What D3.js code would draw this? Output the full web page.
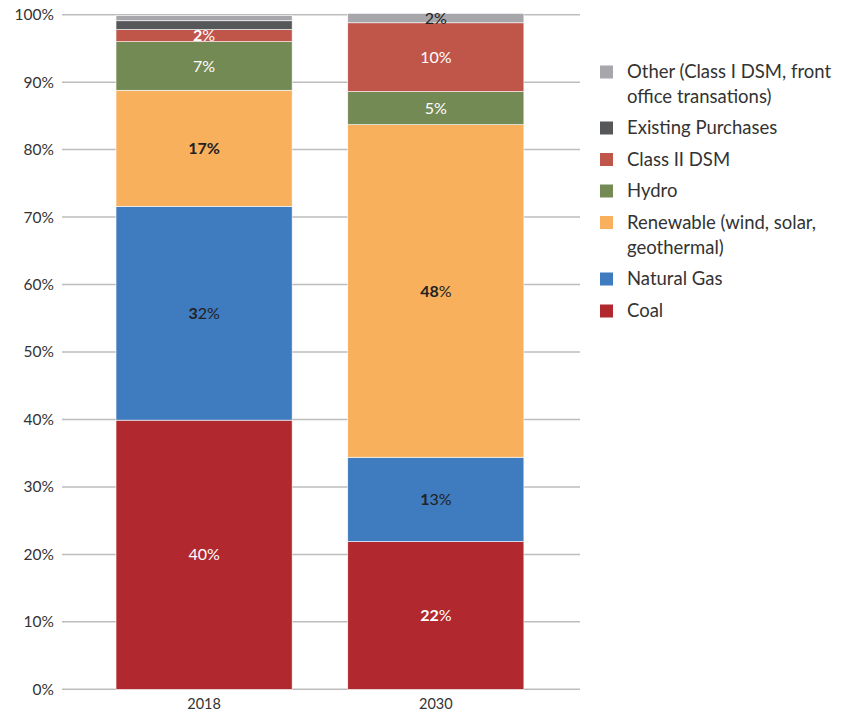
<!DOCTYPE html>
<html>
<head>
<meta charset="utf-8">
<script src="https://cdn.jsdelivr.net/npm/d3@7/dist/d3.min.js"></script>
<style>
  body { margin: 0; background: #fff; }
  svg { display: block; font-family: Lato, "Open Sans", sans-serif; }
</style>
</head>
<body>
<svg id="chart" width="851" height="712"></svg>
<script>
// ---- data ----
const years = ["2018", "2030"];
const seriesNames = ["Coal", "Natural Gas", "Renewable (wind, solar, geothermal)", "Hydro", "Class II DSM", "Existing Purchases", "Other (Class I DSM, front office transations)"];
const coal = [39.9, 21.9];
const naturalGas = [31.7, 12.5];
const renewable = [17.2, 49.3];
const hydro = [7.2, 4.9];
const classIIDSM = [1.8, 10.2];
const existingPurchases = [1.3, 0];
const other = [0.8, 1.4];
const labels2018 = ["40%", "32%", "17%", "7%", "2%", "", ""];
const labels2030 = ["22%", "13%", "48%", "5%", "10%", "", "2%"];
const yTicks = [0, 10, 20, 30, 40, 50, 60, 70, 80, 90, 100];

// ---- style ----
const colors = ["#b1292e", "#3f7bbf", "#f9b05c", "#748a55", "#c0564a", "#555758", "#a6a6ab"];
const labelColor2018 = ["#fff", "#222", "#222", "#fff", "#fff", "#fff", "#fff"];
const labelColor2030 = ["#fff", "#222", "#222", "#fff", "#fff", "#fff", "#222"];
const boldChars2018 = [0, 1, 3, 0, 1, 0, 0];   // leading characters rendered bold
const boldChars2030 = [2, 1, 2, 0, 0, 0, 0];

const seriesValues = [coal, naturalGas, renewable, hydro, classIIDSM, existingPurchases, other];
const rows = years.map((yr, i) => {
  const r = { year: yr };
  seriesNames.forEach((s, k) => r[s] = seriesValues[k][i]);
  return r;
});
const stacked = d3.stack().keys(seriesNames)(rows);

const svg = d3.select("#chart");
const y = d3.scaleLinear().domain([0, 100]).range([689.3, 14.7]);
const x = d3.scaleBand().domain(years).range([88.2, 551.7]).paddingInner(0.24).paddingOuter(0.12);

// gridlines
svg.append("g").selectAll("line").data(yTicks).join("line")
  .attr("x1", 62).attr("x2", 580)
  .attr("y1", d => y(d)).attr("y2", d => y(d))
  .attr("stroke", "#bdbdbd").attr("stroke-width", 1.5);

// y axis labels
const yAxis = d3.axisLeft(y).tickValues(yTicks).tickFormat(d => d + "%").tickSize(0).tickPadding(0);
const yg = svg.append("g").attr("transform", "translate(54,0)").call(yAxis);
yg.select(".domain").remove();
yg.selectAll("text").attr("font-size", 15.5).attr("fill", "#333").attr("font-family", "Lato, sans-serif");

// bars
const layers = svg.append("g").selectAll("g").data(stacked).join("g")
  .attr("fill", (d, i) => colors[i]);
layers.selectAll("rect").data(d => d).join("rect")
  .attr("x", d => x(d.data.year))
  .attr("width", x.bandwidth())
  .attr("y", d => y(d[1]))
  .attr("height", d => Math.max(0, y(d[0]) - y(d[1])))
  .attr("stroke", "#fff").attr("stroke-width", 0.6);

// x axis labels
const xAxis = d3.axisBottom(x).tickSize(0).tickPadding(0);
const xg = svg.append("g").attr("transform", "translate(0,709)").call(xAxis);
xg.select(".domain").remove();
xg.selectAll("text").attr("dy", 0).attr("font-size", 14.5).attr("fill", "#333").attr("font-family", "Lato, sans-serif");

// data labels
const labelSets = [labels2018, labels2030];
const colorSets = [labelColor2018, labelColor2030];
const boldSets = [boldChars2018, boldChars2030];
stacked.forEach((layer, k) => {
  layer.forEach((seg, i) => {
    const txt = labelSets[i][k];
    if (!txt) return;
    const t = svg.append("text")
      .attr("x", x(seg.data.year) + x.bandwidth() / 2)
      .attr("y", (y(seg[0]) + y(seg[1])) / 2)
      .attr("dy", "0.35em")
      .attr("text-anchor", "middle")
      .attr("font-size", 16)
      .attr("fill", colorSets[i][k]);
    const nb = boldSets[i][k];
    if (nb > 0) t.append("tspan").attr("font-weight", "bold").text(txt.slice(0, nb));
    t.append("tspan").text(txt.slice(nb));
  });
});

// legend
const legendItems = [
  { name: ["Other (Class I DSM, front", "office transations)"], c: 6 },
  { name: ["Existing Purchases"], c: 5 },
  { name: ["Class II DSM"], c: 4 },
  { name: ["Hydro"], c: 3 },
  { name: ["Renewable (wind, solar,", "geothermal)"], c: 2 },
  { name: ["Natural Gas"], c: 1 },
  { name: ["Coal"], c: 0 }
];
const legendY = [72, 128, 159.5, 191, 222.5, 279, 311];
const lg = svg.append("g");
legendItems.forEach((it, i) => {
  lg.append("rect").attr("x", 600).attr("y", legendY[i] - 6.5).attr("width", 13).attr("height", 13)
    .attr("fill", colors[it.c]);
  const t = lg.append("text").attr("x", 627).attr("y", legendY[i])
    .attr("font-size", 18.5).attr("fill", "#333");
  it.name.forEach((ln, j) => t.append("tspan").attr("x", 627).attr("dy", j === 0 ? "0.35em" : 25).text(ln));
});
</script>
</body>
</html>
